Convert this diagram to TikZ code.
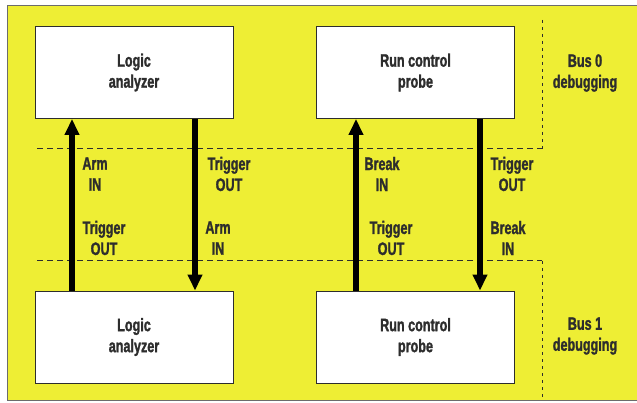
\documentclass[tikz,border=0pt]{standalone}
\usepackage{fontspec}
\setmainfont{Liberation Sans}[FakeStretch=0.7, FakeBold=1.5]
\usetikzlibrary{arrows.meta}
\definecolor{bgyellow}{RGB}{238,238,52}
\definecolor{txt}{RGB}{45,45,45}
\tikzset{
  box/.style={draw=txt, line width=0.9pt, fill=white, minimum width=198pt, minimum height=92pt, inner sep=0pt},
  lbl/.style={font=\fontsize{18}{21}\selectfont\bfseries, text=txt, align=center, inner sep=0pt},
  sig/.style={line width=5.5pt, draw=black},
  sigarrow/.style={sig, -{Triangle[width=14pt,length=16pt]}},
  busline/.style={draw=txt, line width=1pt, dash pattern=on 6pt off 4pt},
  busdiv/.style={draw=txt, line width=1pt, dash pattern=on 3pt off 4pt},
}
\begin{document}
\begin{tikzpicture}[x=1pt,y=-1pt]
\useasboundingbox (0,0) rectangle (637,403);
\fill[white] (0,0) rectangle (637,403);
\path[fill=bgyellow, draw=txt!70, line width=1pt] (7,6) -- (640,6) -- (640,400) -- (7,400) -- cycle;
% bus lines
\coordinate (d0l) at (37,149); \coordinate (d0r) at (542,149);
\coordinate (d1l) at (37,261); \coordinate (d1r) at (542,261);
\coordinate (v0t) at (542,20); \coordinate (v1b) at (542,400);
\draw[busline] (d0l) -- (d0r);
\draw[busline] (d1l) -- (d1r);
\draw[busdiv] (v0t) -- (d0r);
\draw[busdiv] (d1r) -- (v1b);
% boxes
\node[box] (la0) at (134,72.5) {};
\node[box] (rc0) at (415.5,72.5) {};
\node[box] (la1) at (134,337) {};
\node[box] (rc1) at (415.5,337) {};
\node[lbl] at (la0) {Logic\\analyzer};
\node[lbl] at (rc0) {Run control\\probe};
\node[lbl] at (la1) {Logic\\analyzer};
\node[lbl] at (rc1) {Run control\\probe};
% arrows
\draw[sigarrow] (la1.north -| 72,0) -- (la0.south -| 72,0);
\draw[sigarrow] (la0.south -| 195,0) -- (la1.north -| 195,0);
\draw[sigarrow] (rc1.north -| 356,0) -- (rc0.south -| 356,0);
\draw[sigarrow] (rc0.south -| 480,0) -- (rc1.north -| 480,0);
% signal labels
\node[lbl] (a1) at (95,174) {Arm\\IN};
\node[lbl] (a2) at (104,238) {Trigger\\OUT};
\node[lbl] (a3) at (229,174) {Trigger\\OUT};
\node[lbl] (a4) at (218,238) {Arm\\IN};
\node[lbl] (a5) at (382,174) {Break\\IN};
\node[lbl] (a6) at (391,238) {Trigger\\OUT};
\node[lbl] (a7) at (512,174) {Trigger\\OUT};
\node[lbl] (a8) at (508,238) {Break\\IN};
% bus labels
\node[lbl] (b0) at (585,73) {Bus 0\\debugging};
\node[lbl] (b1) at (585,336) {Bus 1\\debugging};
\end{tikzpicture}
\end{document}
